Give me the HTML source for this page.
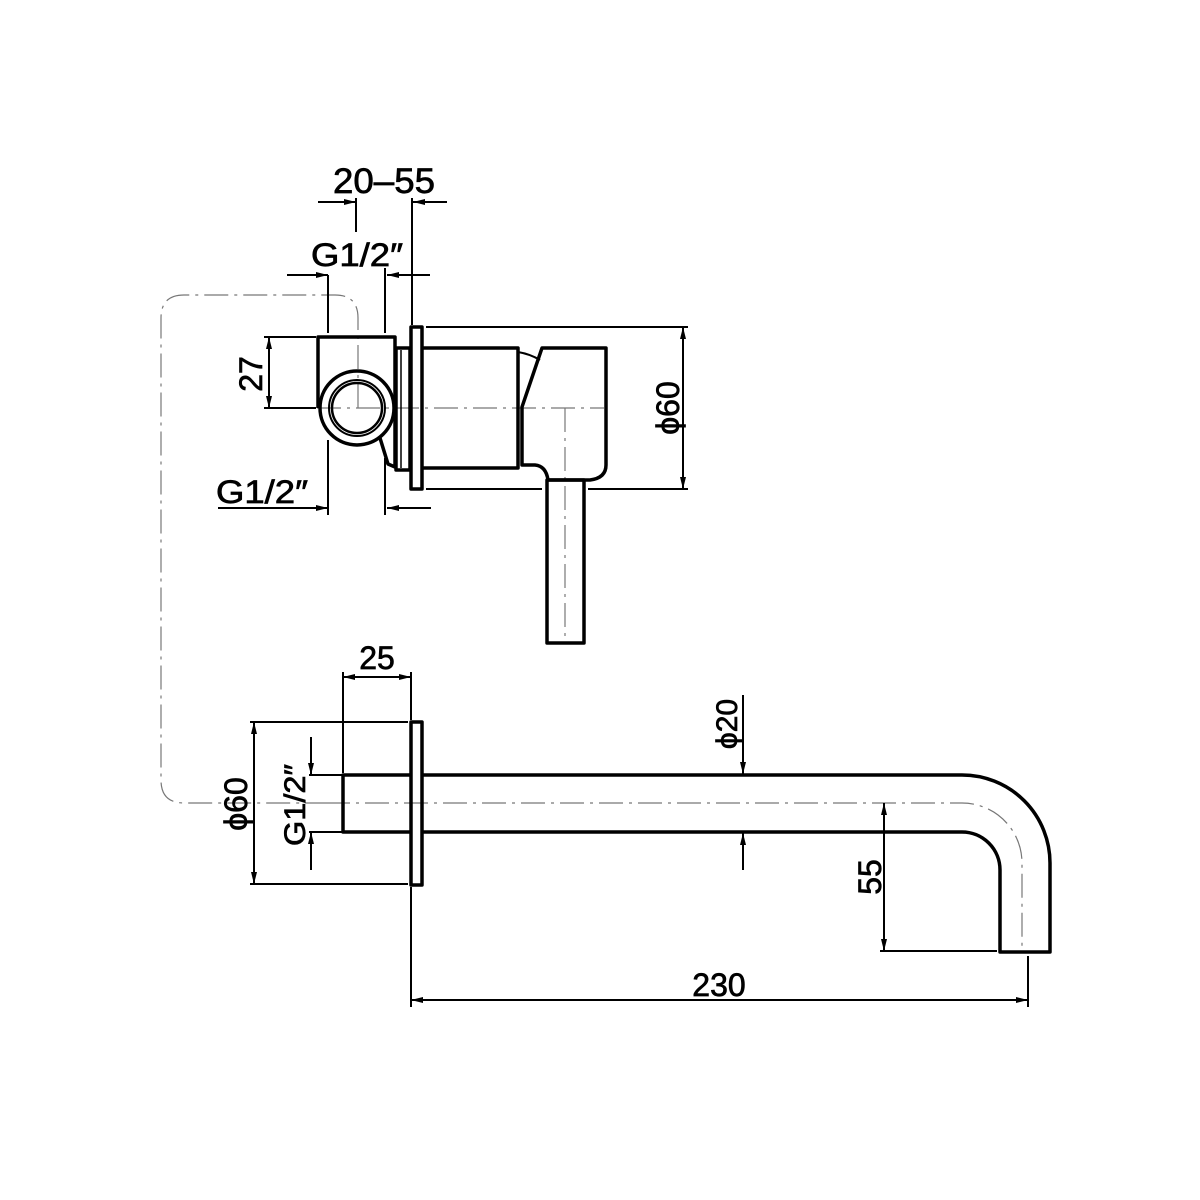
<!DOCTYPE html>
<html><head><meta charset="utf-8"><style>
html,body{margin:0;padding:0;background:#fff;}
svg{display:block;}
text{font-family:"Liberation Sans",sans-serif;fill:#000;stroke:#000;stroke-width:0.7;}
</style></head><body>
<svg width="1200" height="1200" viewBox="0 0 1200 1200" xmlns="http://www.w3.org/2000/svg">
<defs>
<marker id="a" viewBox="0 0 12 6" refX="12" refY="3" markerWidth="12" markerHeight="6" orient="auto" markerUnits="userSpaceOnUse"><path d="M0,0 L12,3 L0,6 z" fill="#000"/></marker>
</defs>
<rect width="1200" height="1200" fill="#fff"/>

<g fill="none" stroke="#777" stroke-width="1.2" stroke-dasharray="24,6,3,6">
<path d="M358,408 L358,318 Q358,295 335,295 L184,295 Q161,295 161,318 L161,780 Q161,803 184,803 L326,803"/>
<path d="M317,408 L604,408"/>
<path d="M565,408 L565,643"/>
<path d="M326,803 L962,803 A60,60 0 0 1 1022,863 L1022,952"/>
</g>

<g fill="none" stroke="#000" stroke-width="3.5" stroke-linejoin="round">
<path d="M318,408 L318,337 L395,337 L395,408"/>
<path d="M395,408 L395,467 L388,464 L380,438"/>
<circle cx="357" cy="408" r="37"/>
<circle cx="357" cy="408" r="28" stroke-width="2"/>
<circle cx="357" cy="408" r="25" stroke-width="2.5"/>
<rect x="396" y="348" width="14" height="122"/>
<line x1="401" y1="350" x2="401" y2="468" stroke-width="1.5"/>
<rect x="411" y="327" width="11" height="162"/>
<path d="M422,348 L518,348 L518,468 L422,468"/>
<path d="M518,352 Q530,354 540,360" stroke-width="2"/>
<path d="M542,348 L606,348 L606,465 Q606,478 590,480 L548,480 Q546,466 535,465 L522,465 L522,407 Z"/>
<rect x="547" y="480" width="37" height="163"/>
</g>

<g stroke="#000" stroke-width="2" fill="none">
<line x1="318" y1="202" x2="356" y2="202" marker-end="url(#a)"/>
<line x1="356" y1="198" x2="356" y2="232"/>
<line x1="447" y1="202" x2="413" y2="202" marker-end="url(#a)"/>
<line x1="412" y1="198" x2="412" y2="325"/>
<line x1="287" y1="275" x2="328" y2="275" marker-end="url(#a)"/>
<line x1="328" y1="275" x2="328" y2="333"/>
<line x1="385" y1="268" x2="385" y2="333"/>
<line x1="430" y1="275" x2="387" y2="275" marker-end="url(#a)"/>
<line x1="264" y1="337" x2="316" y2="337"/>
<line x1="264" y1="408" x2="316" y2="408"/>
<line x1="269" y1="372" x2="269" y2="337" marker-end="url(#a)"/>
<line x1="269" y1="372" x2="269" y2="408" marker-end="url(#a)"/>
<line x1="218" y1="508" x2="328" y2="508" marker-end="url(#a)"/>
<line x1="328" y1="440" x2="328" y2="515"/>
<line x1="385" y1="458" x2="385" y2="515"/>
<line x1="431" y1="508" x2="387" y2="508" marker-end="url(#a)"/>
<line x1="426" y1="327" x2="688" y2="327"/>
<line x1="426" y1="489" x2="542" y2="489"/>
<line x1="588" y1="489" x2="688" y2="489"/>
<line x1="683" y1="408" x2="683" y2="327" marker-end="url(#a)"/>
<line x1="683" y1="408" x2="683" y2="489" marker-end="url(#a)"/>
</g>
<text x="384" y="193" font-size="35" text-anchor="middle" textLength="102" lengthAdjust="spacingAndGlyphs">20–55</text>
<text x="357" y="266" font-size="32" text-anchor="middle" textLength="92" lengthAdjust="spacingAndGlyphs">G1/2″</text>
<text x="262" y="374" font-size="32" text-anchor="middle" transform="rotate(-90 262 374)">27</text>
<text x="262" y="503" font-size="32" text-anchor="middle" textLength="92" lengthAdjust="spacingAndGlyphs">G1/2″</text>
<text x="679" y="408" font-size="32" text-anchor="middle" transform="rotate(-90 679 408)">ϕ60</text>

<g fill="none" stroke="#000" stroke-width="3.5" stroke-linejoin="round">
<path d="M411,775 L343,775 L343,832 L411,832"/>
<rect x="411" y="722" width="11" height="163" stroke-width="3.5"/>
<path d="M422,775 L962,775 A88,88 0 0 1 1050,863 L1050,952 L1000,952 L1000,870 A38,38 0 0 0 962,832 L422,832"/>
</g>
<g stroke="#000" stroke-width="2" fill="none">
<line x1="343" y1="672" x2="343" y2="773"/>
<line x1="411" y1="672" x2="411" y2="720"/>
<line x1="377" y1="677" x2="343" y2="677" marker-end="url(#a)"/>
<line x1="377" y1="677" x2="411" y2="677" marker-end="url(#a)"/>
<line x1="250" y1="722" x2="408" y2="722"/>
<line x1="250" y1="884" x2="408" y2="884"/>
<line x1="254" y1="803" x2="254" y2="722" marker-end="url(#a)"/>
<line x1="254" y1="803" x2="254" y2="884" marker-end="url(#a)"/>
<line x1="309" y1="775" x2="343" y2="775"/>
<line x1="309" y1="832" x2="343" y2="832"/>
<line x1="311" y1="737" x2="311" y2="775" marker-end="url(#a)"/>
<line x1="311" y1="870" x2="311" y2="832" marker-end="url(#a)"/>
<line x1="743" y1="695" x2="743" y2="774" marker-end="url(#a)"/>
<line x1="743" y1="870" x2="743" y2="833" marker-end="url(#a)"/>
<line x1="880" y1="951" x2="997" y2="951"/>
<line x1="884" y1="877" x2="884" y2="803" marker-end="url(#a)"/>
<line x1="884" y1="877" x2="884" y2="951" marker-end="url(#a)"/>
<line x1="411" y1="887" x2="411" y2="1007"/>
<line x1="1028" y1="956" x2="1028" y2="1007"/>
<line x1="720" y1="1000" x2="411" y2="1000" marker-end="url(#a)"/>
<line x1="720" y1="1000" x2="1028" y2="1000" marker-end="url(#a)"/>
</g>
<text x="377" y="669" font-size="32" text-anchor="middle">25</text>
<text x="247" y="804" font-size="32" text-anchor="middle" transform="rotate(-90 247 804)">ϕ60</text>
<text x="305" y="805" font-size="30" text-anchor="middle" textLength="82" lengthAdjust="spacingAndGlyphs" transform="rotate(-90 305 805)">G1/2″</text>
<text x="737" y="724" font-size="30" text-anchor="middle" transform="rotate(-90 737 724)">ϕ20</text>
<text x="881" y="877" font-size="32" text-anchor="middle" transform="rotate(-90 881 877)">55</text>
<text x="719" y="996" font-size="32" text-anchor="middle">230</text>
</svg>
</body></html>
